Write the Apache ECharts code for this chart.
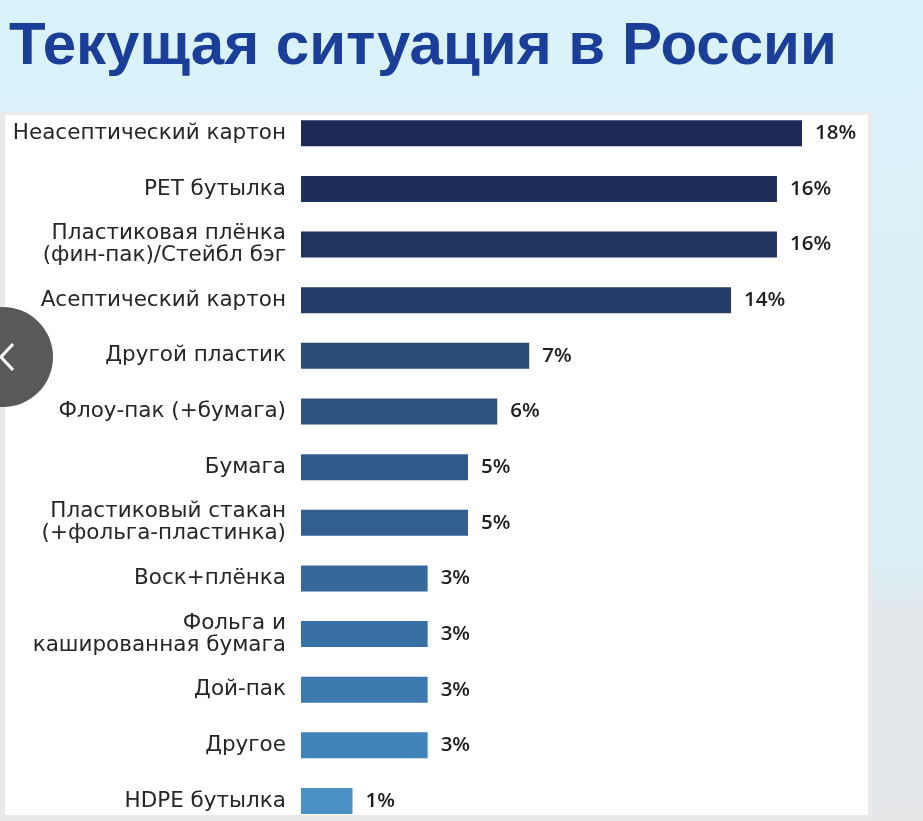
<!DOCTYPE html>
<html>
<head>
<meta charset="utf-8">
<script src="https://cdn.jsdelivr.net/npm/echarts@6/dist/echarts.min.js"></script>
<style>
    html, body { margin: 0; padding: 0; }
    #chart { width: 923px; height: 821px; }
</style>
</head>
<body>
<div id="chart"></div>
<script>
// категории упаковки, сверху вниз
var categories = [
    'Неасептический картон',
    'PET бутылка',
    'Пластиковая плёнка\n(фин-пак)/Стейбл бэг',
    'Асептический картон',
    'Другой пластик',
    'Флоу-пак (+бумага)',
    'Бумага',
    'Пластиковый стакан\n(+фольга-пластинка)',
    'Воск+плёнка',
    'Фольга и\nкашированная бумага',
    'Дой-пак',
    'Другое',
    'HDPE бутылка'
];
// длины столбцов как нарисованы в оригинале (там они не пропорциональны подписям)
var drawnShare = [18, 17.1, 17.1, 15.45, 8.2, 7.05, 6.0, 6.0, 4.55, 4.55, 4.55, 4.55, 1.85];
// подписи, напечатанные справа от столбцов
var printedShare = ['18%', '16%', '16%', '14%', '7%', '6%', '5%', '5%', '3%', '3%', '3%', '3%', '1%'];

// цвета столбцов: от тёмно-синего к голубому
var barColors = ['#1c2a55', '#1e2e5b', '#21335f', '#253c69', '#2a4a78', '#2e5282',
    '#315a8a', '#335f90', '#36689a', '#3870a3', '#3c79ae', '#4084b9', '#4a91c6'];

var chart = echarts.init(document.getElementById('chart'));

var option = {
    backgroundColor: '#daf1f8',
    animation: false,
    title: {
        text: 'Текущая ситуация в России',
        left: 4,
        top: 12,
        textStyle: {
            fontFamily: 'Liberation Sans',
            fontWeight: 'bold',
            fontSize: 60,
            color: '#1b3e99'
        }
    },
    graphic: [
        {
            type: 'rect', z: -20,
            shape: { x: 0, y: 0, width: 923, height: 821 },
            style: {
                fill: new echarts.graphic.LinearGradient(0, 0, 0, 1, [
                    { offset: 0, color: '#daf2f9' },
                    { offset: 0.68, color: '#daf0f7' },
                    { offset: 0.75, color: '#e3e8eb' },
                    { offset: 1, color: '#e5e7e9' }
                ])
            }
        },
        {
            type: 'rect', z: -19,
            shape: { x: 0, y: 112, width: 872, height: 709 },
            style: { fill: '#e9e9e9' }
        },
        {
            type: 'rect', z: -18,
            shape: { x: 5, y: 115, width: 863, height: 700 },
            style: { fill: '#ffffff' }
        },
        {
            type: 'circle', z: 100,
            shape: { cx: 3, cy: 357, r: 50 },
            style: { fill: '#595959' }
        },
        {
            type: 'polyline', z: 101,
            shape: { points: [[13, 344], [1, 357], [13, 370]] },
            style: { stroke: '#ffffff', lineWidth: 3, fill: null }
        }
    ],
    // первая и последняя категории стоят на краях сетки
    grid: {
        left: 301,
        top: 133.3,
        width: 501,
        height: 667.7
    },
    xAxis: {
        type: 'value',
        min: 0,
        max: 18,
        show: false
    },
    yAxis: {
        type: 'category',
        inverse: true,
        boundaryGap: false,
        data: categories,
        axisLine: { show: false },
        axisTick: { show: false },
        splitLine: { show: false },
        axisLabel: {
            margin: 15,
            fontFamily: 'DejaVu Sans',
            fontSize: 21.5,
            lineHeight: 22,
            color: '#262626',
            align: 'right'
        }
    },
    series: [
        {
            type: 'bar',
            barWidth: 26,
            data: drawnShare.map(function (v, i) {
                return { value: v, itemStyle: { color: barColors[i] } };
            }),
            label: {
                show: true,
                position: 'right',
                distance: 13,
                fontFamily: 'Open Sans',
                fontWeight: 600,
                fontSize: 20.5,
                color: '#1e1e1e',
                formatter: function (p) {
                    return printedShare[p.dataIndex];
                }
            }
        }
    ]
};

chart.setOption(option);
</script>
</body>
</html>
